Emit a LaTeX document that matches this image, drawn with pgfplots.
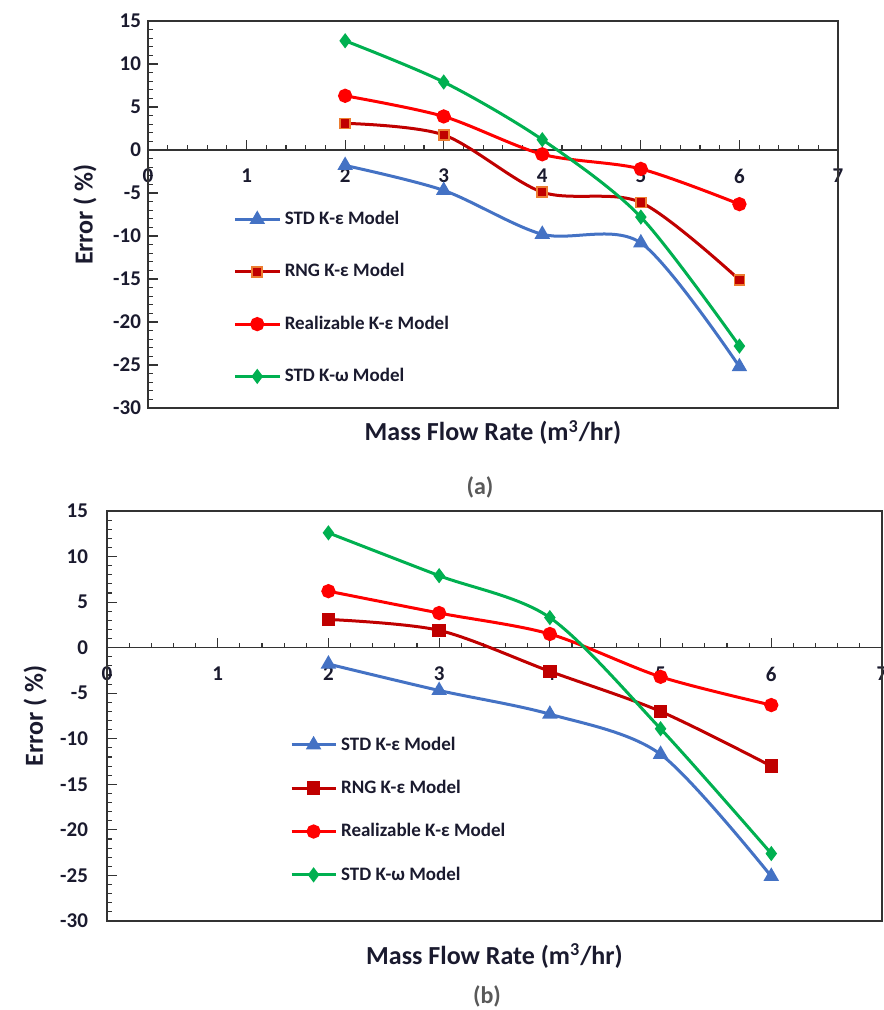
\documentclass[border=0pt]{standalone}
\usepackage{fontspec}
\setmainfont{Carlito}
\usepackage{pgfplots}
\pgfplotsset{compat=1.18}
\definecolor{stdke}{HTML}{4472C4}
\definecolor{rng}{HTML}{C00000}
\definecolor{rngedge}{HTML}{ED7D31}
\definecolor{real}{HTML}{FF0000}
\definecolor{kw}{HTML}{00B050}
\definecolor{txt}{HTML}{1A1A2E}

\tikzset{lbl/.style={font=\bfseries\fontsize{13}{15}\selectfont, text=txt}}

\pgfplotsset{
  errstyle/.style={
    scale only axis,
    xmin=0, xmax=7, ymin=-30, ymax=15,
    xtick={0,...,7}, ytick={-30,-25,...,15},
    minor x tick num=4, minor y tick num=4,
    axis x line=middle, axis y line=left,
    axis line style={-, line width=0.8pt, black!80},
    tick style={black!80, line width=0.6pt},
    major tick length=5pt, minor tick length=2.5pt,
    tick align=inside,
    hide obscured x ticks=false,
    /pgf/number format/assume math mode=true,
    tick label style={font=\bfseries\fontsize{10.5}{12}\selectfont, text=txt},
    xticklabel style={anchor=north, yshift=-6pt},
    xlabel={Mass Flow Rate (m\textsuperscript{3}/hr)},
    ylabel={Error ( \%)},
    legend cell align=left,
    legend style={draw=none, fill=none, anchor=north west,
      font=\bfseries\fontsize{9.5}{11}\selectfont, text=txt},
    legend image code/.code={\draw[mark repeat=2,mark phase=2,#1]
      plot coordinates {(0pt,0pt) (11pt,0pt) (22pt,0pt)};},
    every axis plot/.append style={line width=1.5pt, smooth, tension=0.5},
    after end axis/.code={\draw[black!80, line width=0.8pt]
      (rel axis cs:0,0) rectangle (rel axis cs:1,1);},
  },
}

\begin{document}
\begin{tikzpicture}
\useasboundingbox (0,0) rectangle (441.5pt,505pt);

% (a)
\begin{axis}[errstyle,
  at={(74pt,301pt)}, anchor=south west, width=345pt, height=193.5pt,
  every axis x label/.style={lbl, at={(rel axis cs:0.5,0)}, anchor=base, yshift=-16.5pt},
  every axis y label/.style={lbl, at={(rel axis cs:-0.0913,0.5)}, rotate=90, anchor=center},
  legend style={at={(0.115,0.53)}, row sep=14pt},
]
\addplot[color=stdke, mark=triangle*, mark size=3pt]
coordinates {(2,-1.8) (3,-4.7) (4,-9.8) (5,-10.8) (6,-25.2)};
\addlegendentry{STD K-ε Model}
\addplot[color=rng, mark=square*, mark size=2.5pt, mark options={draw=rngedge, fill=rng, line width=0.8pt}]
coordinates {(2,3.1) (3,1.75) (4,-4.9) (5,-6.1) (6,-15.1)};
\addlegendentry{RNG K-ε Model}
\addplot[color=real, mark=*, mark size=2.8pt]
coordinates {(2,6.3) (3,3.9) (4,-0.5) (5,-2.2) (6,-6.3)};
\addlegendentry{Realizable K-ε Model}
\addplot[color=kw, mark=diamond*, mark size=2.6pt]
coordinates {(2,12.7) (3,7.9) (4,1.2) (5,-7.8) (6,-22.8)};
\addlegendentry{STD K-ω Model}
\end{axis}

\node[anchor=base, font=\bfseries\fontsize{12}{14}\selectfont, text=black!65] at (240pt,257.5pt) {(a)};

% (b)
\begin{axis}[errstyle,
  at={(53.5pt,44.5pt)}, anchor=south west, width=387.5pt, height=205pt,
  yticklabel style={xshift=-6pt},
  every axis x label/.style={lbl, at={(rel axis cs:0.5,0)}, anchor=base, yshift=-21.5pt},
  every axis y label/.style={lbl, at={(rel axis cs:-0.0928,0.5)}, rotate=90, anchor=center},
  legend style={at={(0.228,0.47)}, row sep=9.5pt},
]
\addplot[color=stdke, mark=triangle*, mark size=3pt]
coordinates {(2,-1.8) (3,-4.7) (4,-7.3) (5,-11.7) (6,-25.1)};
\addlegendentry{STD K-ε Model}
\addplot[color=rng, mark=square*, mark size=2.6pt]
coordinates {(2,3.1) (3,1.9) (4,-2.6) (5,-7.0) (6,-13.0)};
\addlegendentry{RNG K-ε Model}
\addplot[color=real, mark=*, mark size=2.8pt]
coordinates {(2,6.2) (3,3.8) (4,1.5) (5,-3.2) (6,-6.3)};
\addlegendentry{Realizable K-ε Model}
\addplot[color=kw, mark=diamond*, mark size=2.6pt]
coordinates {(2,12.6) (3,7.9) (4,3.3) (5,-8.9) (6,-22.6)};
\addlegendentry{STD K-ω Model}
\end{axis}

\node[anchor=base, font=\bfseries\fontsize{12}{14}\selectfont, text=black!65] at (243.5pt,3pt) {(b)};
\end{tikzpicture}
\end{document}
